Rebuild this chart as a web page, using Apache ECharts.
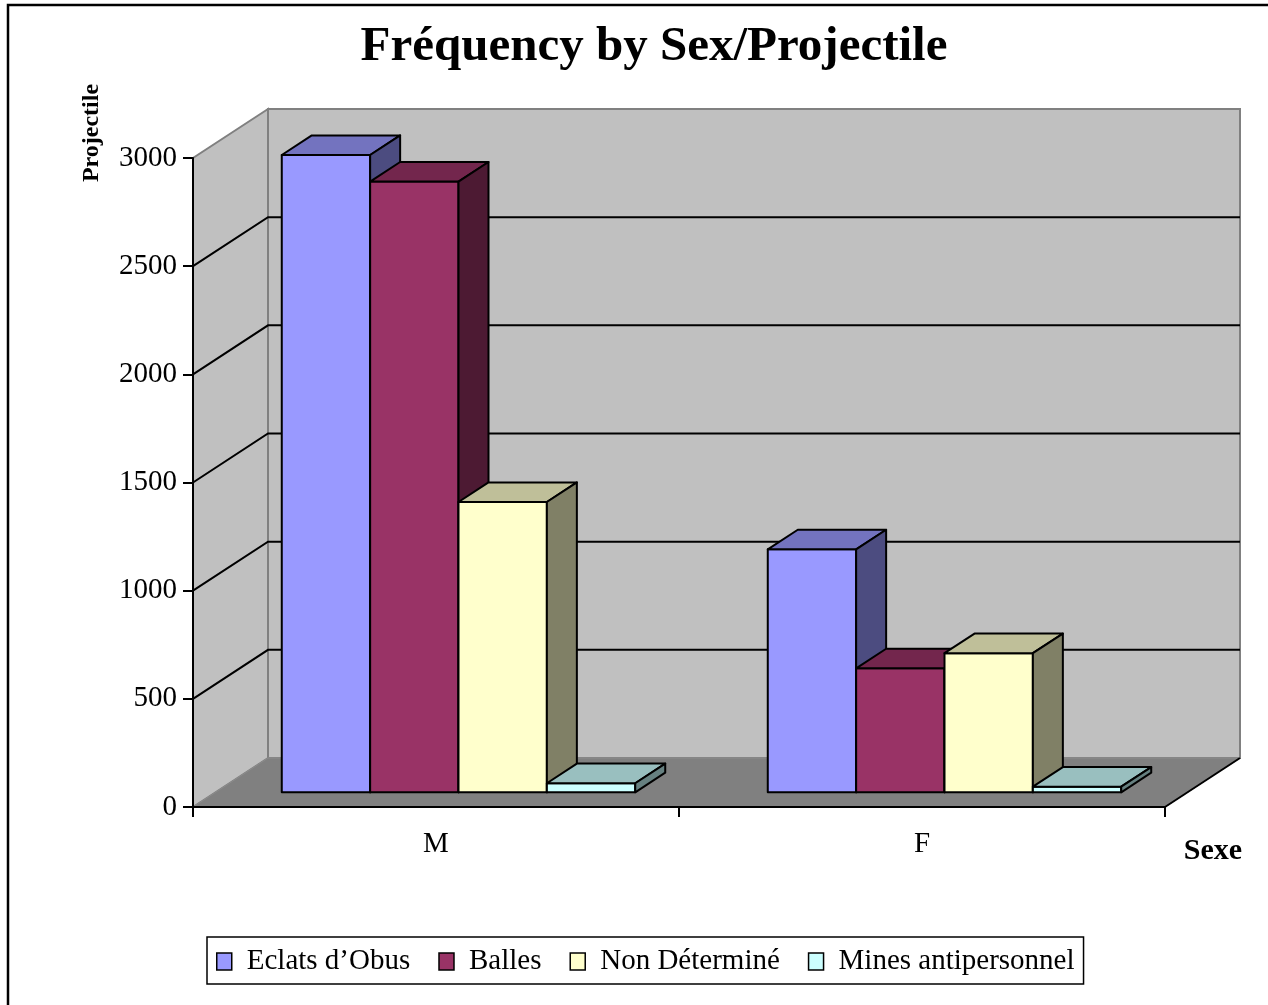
<!DOCTYPE html>
<html>
<head>
<meta charset="utf-8">
<script src="https://cdn.jsdelivr.net/npm/echarts@6/dist/echarts.min.js"></script>
<style>
  html, body { margin: 0; padding: 0; background: #fff; }
  #chart { width: 1268px; height: 1005px; }
</style>
</head>
<body>
<div id="chart"></div>
<script>
// ---- data ----
const categories = ['M', 'F'];
const seriesNames = ['Eclats d’Obus', 'Balles', 'Non Déterminé', 'Mines antipersonnel'];
const eclatsObus = [2946, 1123];
const balles = [2823, 573];
const nonDetermine = [1342, 643];
const minesAntipersonnel = [42, 26];
const yTicks = [0, 500, 1000, 1500, 2000, 2500, 3000];

// ---- styling ----
const seriesValues = [eclatsObus, balles, nonDetermine, minesAntipersonnel];
const frontColors = ['#9999FF', '#993366', '#FFFFCC', '#CCFFFF'];
const topColors = ['#7373BF', '#73264D', '#BFBF99', '#99BFBF'];
const sideColors = ['#4C4C80', '#4D1A33', '#808066', '#668080'];
const FONT = '"Liberation Serif", "Times New Roman", serif';

// oblique projection of the depth direction (pixels for full depth)
const DEPTH_X = 75, DEPTH_Y = 49;
const BAR_FRONT = 0.3;   // fraction of depth where bar fronts sit
const BAR_DEPTH = 0.4;   // fraction of depth taken by a bar
const GAP_RATIO = 1.5;   // gap between groups, in bar widths

function renderWalls(params, api) {
  const cs = params.coordSys;
  const L = cs.x, R = cs.x + cs.width;
  const y0 = api.coord([0, 0])[1];
  const yTop = api.coord([0, yTicks[yTicks.length - 1]])[1];
  const children = [
    { type: 'polygon',
      shape: { points: [[L, y0], [L, yTop], [L + DEPTH_X, yTop - DEPTH_Y], [L + DEPTH_X, y0 - DEPTH_Y]] },
      style: { fill: '#C0C0C0', stroke: '#808080', lineWidth: 2 } },
    { type: 'rect',
      shape: { x: L + DEPTH_X, y: yTop - DEPTH_Y, width: cs.width, height: y0 - yTop },
      style: { fill: '#C0C0C0', stroke: '#808080', lineWidth: 2 } },
    { type: 'polygon',
      shape: { points: [[L, y0], [L + DEPTH_X, y0 - DEPTH_Y], [R + DEPTH_X, y0 - DEPTH_Y], [R, y0]] },
      style: { fill: '#808080', stroke: '#8C8C8C', lineWidth: 1 } },
    { type: 'line',
      shape: { x1: R, y1: y0, x2: R + DEPTH_X, y2: y0 - DEPTH_Y },
      style: { stroke: '#000', lineWidth: 2 } }
  ];
  yTicks.slice(1, -1).forEach(function (v) {
    const y = api.coord([0, v])[1];
    children.push({
      type: 'polyline',
      shape: { points: [[L, y], [L + DEPTH_X, y - DEPTH_Y], [R + DEPTH_X, y - DEPTH_Y]] },
      style: { stroke: '#000', lineWidth: 2, fill: null }
    });
  });
  return { type: 'group', children: children };
}

function makeBarRenderer(k) {
  return function (params, api) {
    const cat = api.value(0), v = api.value(1);
    const base = api.coord([cat, 0]);
    const topPt = api.coord([cat, v]);
    const band = api.size([1, 0])[0];
    const n = seriesValues.length;
    const w = band / (n + GAP_RATIO);
    const x0 = base[0] - n * w / 2 + k * w + BAR_FRONT * DEPTH_X;
    const yb = base[1] - BAR_FRONT * DEPTH_Y;
    const yt = topPt[1] - BAR_FRONT * DEPTH_Y;
    const dx = BAR_DEPTH * DEPTH_X, dy = BAR_DEPTH * DEPTH_Y;
    const edge = { stroke: '#000', lineWidth: 2, lineJoin: 'round' };
    return {
      type: 'group',
      children: [
        { type: 'rect', shape: { x: x0, y: yt, width: w, height: yb - yt },
          style: Object.assign({ fill: frontColors[k] }, edge) },
        { type: 'polygon', shape: { points: [[x0, yt], [x0 + dx, yt - dy], [x0 + w + dx, yt - dy], [x0 + w, yt]] },
          style: Object.assign({ fill: topColors[k] }, edge) },
        { type: 'polygon', shape: { points: [[x0 + w, yt], [x0 + w + dx, yt - dy], [x0 + w + dx, yb - dy], [x0 + w, yb]] },
          style: Object.assign({ fill: sideColors[k] }, edge) }
      ]
    };
  };
}

const barSeries = seriesNames.map(function (name, k) {
  return {
    type: 'custom',
    name: name,
    renderItem: makeBarRenderer(k),
    encode: { x: 0, y: 1 },
    itemStyle: { color: frontColors[k] },
    data: categories.map(function (c, j) { return [j, seriesValues[k][j]]; }),
    z: 3 + k
  };
});

const chart = echarts.init(document.getElementById('chart'), null, { renderer: 'canvas' });
chart.setOption({
  animation: false,
  backgroundColor: '#fff',
  title: {
    text: 'Fréquency by Sex/Projectile',
    left: 654, top: 23, textAlign: 'center', padding: 0,
    textStyle: { fontFamily: FONT, fontSize: 49, fontWeight: 'bold', color: '#000' }
  },
  legend: {
    data: seriesNames,
    selectedMode: false,
    left: 207, top: 937,
    orient: 'horizontal',
    padding: [10, 9, 8, 9],
    itemGap: 28,
    itemWidth: 15, itemHeight: 17,
    icon: 'rect',
    borderColor: '#000', borderWidth: 1.5,
    itemStyle: { borderColor: '#000', borderWidth: 1.5 },
    textStyle: { fontFamily: FONT, fontSize: 29, color: '#000', padding: [0, 0, 0, 10] }
  },
  grid: { left: 193, right: 103, top: 158, bottom: 198 },
  xAxis: {
    type: 'category',
    data: categories,
    z: 10,
    axisLine: { lineStyle: { color: '#000', width: 2 } },
    axisTick: { show: true, length: 10, lineStyle: { color: '#000', width: 2 } },
    axisLabel: { fontFamily: FONT, fontSize: 29, color: '#000', margin: 23 },
    splitLine: { show: false }
  },
  yAxis: {
    type: 'value',
    min: yTicks[0], max: yTicks[yTicks.length - 1], interval: 500,
    z: 10,
    axisLine: { show: true, lineStyle: { color: '#000', width: 2 } },
    axisTick: { show: true, length: 10, lineStyle: { color: '#000', width: 2 } },
    axisLabel: { fontFamily: FONT, fontSize: 29, color: '#000', margin: 16,
                 formatter: function (v) { return String(v); } },
    splitLine: { show: false }
  },
  graphic: [
    { type: 'polyline', silent: true, z: 100,
      shape: { points: [[8, 1010], [8, 5], [1275, 5]] },
      style: { stroke: '#000', lineWidth: 2.5, fill: null } },
    { type: 'text', x: 92, y: 133, rotation: Math.PI / 2, z: 100,
      style: { text: 'Projectile', fontFamily: FONT, fontSize: 24, fontWeight: 'bold', fill: '#000',
               textAlign: 'center', textVerticalAlign: 'middle' } },
    { type: 'text', x: 1213, y: 851, z: 100,
      style: { text: 'Sexe', fontFamily: FONT, fontSize: 30, fontWeight: 'bold', fill: '#000',
               textAlign: 'center', textVerticalAlign: 'middle' } }
  ],
  series: [
    { type: 'custom', name: 'walls', renderItem: renderWalls, data: [[0, 0]], encode: { x: 0, y: 1 },
      silent: true, z: 1 }
  ].concat(barSeries)
});
</script>
</body>
</html>
